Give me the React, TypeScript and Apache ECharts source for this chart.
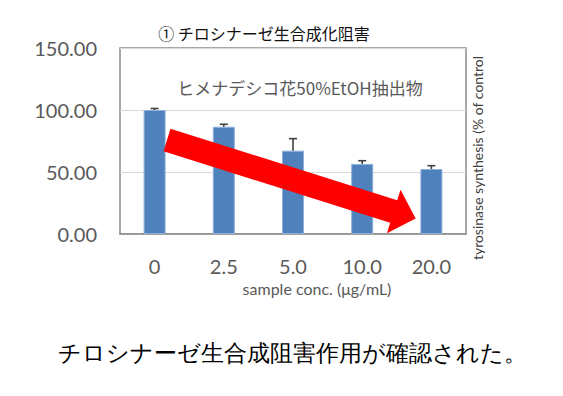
import React, { useEffect, useRef } from "react";
import * as echarts from "echarts";

const categories = ["0", "2.5", "5.0", "10.0", "20.0"];
const values = [100, 86.5, 67.2, 56.5, 52.4];
const errors = [1.2, 2.0, 9.7, 2.6, 2.7];
const yTicks = { min: 0, max: 150, interval: 50 };

const chartTitle = "① チロシナーゼ生合成化阻害";
const innerTitle = "ヒメナデシコ花50%EtOH抽出物";
const xName = "sample conc. (μg/mL)";
const yName = "tyrosinase synthesis (% of control";
const caption = "チロシナーゼ生合成阻害作用が確認された。";

const LATIN = "Lato, 'Noto Sans', sans-serif";
const CJK = "'Noto Sans CJK JP', Lato, sans-serif";

export default function App() {
  const ref = useRef<HTMLDivElement>(null);
  useEffect(() => {
    if (!ref.current) return;
    const chart = echarts.init(ref.current, null, { renderer: "svg" });
    const errData = categories.map((c, i) => [i, values[i], values[i] + errors[i]]);
    chart.setOption({
      animation: false,
      backgroundColor: "#ffffff",
      grid: {
        left: 120,
        top: 48,
        right: 97,
        bottom: 162,
        show: true,
        borderColor: "#8c8c8c",
        borderWidth: 1.5,
      },
      xAxis: {
        type: "category",
        data: categories,
        axisLine: { show: true, lineStyle: { color: "#8c8c8c", width: 1.5 } },
        axisTick: { show: false },
        axisLabel: { color: "#595959", fontSize: 20, lineHeight: 18, fontFamily: LATIN, margin: 23 },
      },
      yAxis: {
        type: "value",
        min: yTicks.min,
        max: yTicks.max,
        interval: yTicks.interval,
        axisLine: { show: false },
        axisTick: { show: false },
        splitLine: { lineStyle: { color: "#d9d9d9", width: 1 } },
        axisLabel: {
          color: "#595959",
          fontSize: 20,
          fontFamily: LATIN,
          margin: 23,
          formatter: (v: number) => v.toFixed(2),
        },
      },
      series: [
        {
          type: "bar",
          data: values,
          barWidth: 22,
          itemStyle: { color: "#4f81bd", borderColor: "#8fb0d8", borderWidth: 1 },
          z: 2,
        },
        {
          type: "custom",
          data: errData,
          z: 3,
          renderItem: (params: any, api: any) => {
            const top = api.coord([api.value(0), api.value(2)]);
            const base = api.coord([api.value(0), api.value(1)]);
            const st = { stroke: "#404040", lineWidth: 1.6 };
            return {
              type: "group",
              children: [
                { type: "line", shape: { x1: top[0], y1: base[1], x2: top[0], y2: top[1] }, style: st },
                { type: "line", shape: { x1: top[0] - 4, y1: top[1], x2: top[0] + 4, y2: top[1] }, style: st },
              ],
            };
          },
        },
      ],
      graphic: [
        {
          type: "text",
          x: 264,
          y: 33,
          style: { text: chartTitle, fontSize: 16, fontFamily: CJK, fill: "#111111", align: "center", verticalAlign: "middle" },
        },
        {
          type: "text",
          x: 300,
          y: 87,
          z: 10,
          style: { text: innerTitle, fontSize: 17, fontFamily: CJK, fill: "#595959", align: "center", verticalAlign: "middle" },
        },
        {
          type: "text",
          x: 317,
          y: 288,
          z: 10,
          style: { text: xName, fontSize: 16, lineHeight: 14, fontFamily: LATIN, fill: "#595959", align: "center", verticalAlign: "middle" },
        },
        {
          type: "text",
          x: 477,
          y: 158,
          rotation: Math.PI / 2,
          style: { text: yName, fontSize: 14, fontFamily: LATIN, fill: "#404040", align: "center", verticalAlign: "middle" },
        },
        {
          type: "polygon",
          z: 20,
          shape: {
            points: [
              [170.5, 128.7],
              [397.2, 200.2],
              [400.5, 189.8],
              [415.7, 218.4],
              [386.9, 233.3],
              [390.2, 222.8],
              [163.5, 151.3],
            ],
          },
          style: { fill: "#ff0000" },
        },
        {
          type: "text",
          x: 292,
          y: 353,
          style: { text: caption, fontSize: 23, fontFamily: "serif", fill: "#000000", align: "center", verticalAlign: "middle" },
        },
      ],
    });
    return () => chart.dispose();
  }, []);
  return (
    <div
      ref={ref}
      style={{ position: "fixed", left: 0, top: 0, width: 563, height: 396 }}
    />
  );
}
